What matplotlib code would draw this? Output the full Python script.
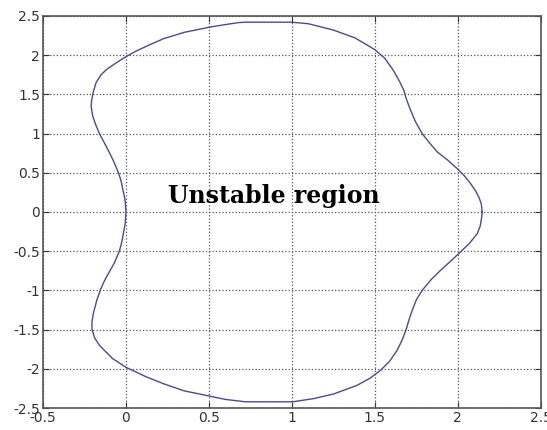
import numpy as np
import matplotlib
matplotlib.use("Agg")
import matplotlib.pyplot as plt

# boundary of the unstable region, traced counter-clockwise from the real-axis
# crossing on the right
re_b = [2.147, 2.142, 2.127, 2.107, 2.077, 2.04, 1.996, 1.94, 1.876, 1.83,
        1.785, 1.745, 1.715, 1.69, 1.675, 1.65, 1.61, 1.56, 1.5, 1.38,
        1.25, 1.1, 1.0, 0.72, 0.68, 0.6, 0.5, 0.35, 0.227, 0.13,
        0.06, 0.0, -0.06, -0.115, -0.15, -0.18, -0.198, -0.207, -0.21, -0.2,
        -0.18, -0.16, -0.135, -0.11, -0.075, -0.045, -0.03, -0.02, -0.005, 0.0,
        -0.005, -0.018, -0.027, -0.04, -0.07, -0.11, -0.135, -0.155, -0.175,
        -0.195, -0.205, -0.205, -0.19, -0.16, -0.08, 0.0, 0.05, 0.12, 0.227,
        0.35, 0.498, 0.6, 0.72, 1.005, 1.13, 1.252, 1.393, 1.47, 1.534, 1.59,
        1.634, 1.665, 1.69, 1.705, 1.725, 1.75, 1.785, 1.84, 1.896, 1.95,
        2.006, 2.07, 2.117, 2.135, 2.143, 2.147]
im_b = [0.0, 0.1, 0.19, 0.27, 0.362, 0.46, 0.554, 0.66, 0.766, 0.88,
        1.0, 1.15, 1.30, 1.44, 1.55, 1.66, 1.81, 1.96, 2.07, 2.22,
        2.32, 2.40, 2.42, 2.42, 2.415, 2.39, 2.355, 2.29, 2.21, 2.12,
        2.05, 1.98, 1.9, 1.82, 1.75, 1.65, 1.52, 1.42, 1.35, 1.22,
        1.1, 1.0, 0.9, 0.8, 0.65, 0.5, 0.4, 0.3, 0.15, 0.0,
        -0.15, -0.3, -0.4, -0.5, -0.65, -0.8, -0.9, -1.0, -1.12,
        -1.28, -1.4, -1.49, -1.6, -1.7, -1.87, -1.98, -2.03, -2.1, -2.19,
        -2.28, -2.345, -2.39, -2.42, -2.42, -2.38, -2.32, -2.21, -2.12, -2.02,
        -1.9, -1.765, -1.63, -1.49, -1.38, -1.255, -1.12, -1.0, -0.86, -0.744,
        -0.64, -0.53, -0.4, -0.276, -0.18, -0.08, 0.0]

XTICKS = [-0.5, 0, 0.5, 1, 1.5, 2, 2.5]
YTICKS = [-2.5, -2, -1.5, -1, -0.5, 0, 0.5, 1, 1.5, 2, 2.5]


def fmt(v):
    return f"{v:g}"


fig = plt.figure(figsize=(5.47, 4.30), dpi=100)
ax = fig.add_axes([0.0786, 0.051, 0.91, 0.912])

ax.plot(re_b, im_b, color="#4b4b8c", lw=1.0)
ax.text(0.89, 0.2, "Unstable region", ha="center", va="center",
        fontsize=17, fontweight="heavy", family="DejaVu Serif")

ax.set_xlim(-0.5, 2.5)
ax.set_ylim(-2.5, 2.5)
ax.set_xticks(XTICKS)
ax.set_xticklabels([fmt(v) for v in XTICKS])
ax.set_yticks(YTICKS)
ax.set_yticklabels([fmt(v) for v in YTICKS])
ax.tick_params(direction="in", top=True, right=True, length=4,
               labelsize=10, colors="#333333", pad=2)
ax.grid(True, ls=":", lw=0.9, color="#555555")
for s in ax.spines.values():
    s.set_color("#555555")
    s.set_linewidth(1.2)

fig.savefig("out.png", dpi=100)
